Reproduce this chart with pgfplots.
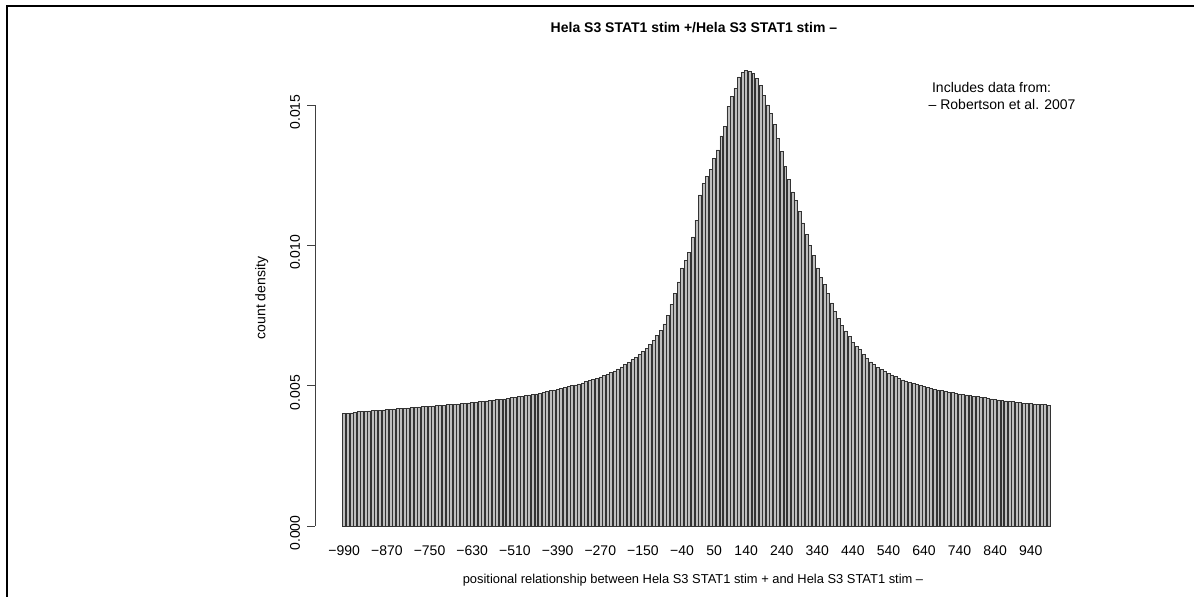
\documentclass[border=0pt]{standalone}
\usepackage{pgfplots}
\pgfplotsset{compat=1.18}
\usepackage{pgfplotstable}
\usepackage{fontspec}
\setmainfont{Liberation Sans}
\definecolor{bargrey}{RGB}{190,190,190}
\pgfplotstableread{
x y
-990 0.00401
-980 0.00402
-970 0.00403
-960 0.00405
-950 0.00407
-940 0.00408
-930 0.00409
-920 0.00410
-910 0.00411
-900 0.00412
-890 0.00413
-880 0.00414
-870 0.00415
-860 0.00416
-850 0.00417
-840 0.00418
-830 0.00419
-820 0.00420
-810 0.00421
-800 0.00422
-790 0.00423
-780 0.00424
-770 0.00425
-760 0.00426
-750 0.00427
-740 0.00428
-730 0.00429
-720 0.00430
-710 0.00431
-700 0.00432
-690 0.00433
-680 0.00434
-670 0.00435
-660 0.00436
-650 0.00437
-640 0.00439
-630 0.00440
-620 0.00441
-610 0.00443
-600 0.00444
-590 0.00446
-580 0.00447
-570 0.00449
-560 0.00450
-550 0.00452
-540 0.00453
-530 0.00455
-520 0.00457
-510 0.00459
-500 0.00461
-490 0.00463
-480 0.00465
-470 0.00467
-460 0.00469
-450 0.00471
-440 0.00473
-430 0.00476
-420 0.00479
-410 0.00482
-400 0.00485
-390 0.00488
-380 0.00491
-370 0.00494
-360 0.00497
-350 0.00500
-340 0.00503
-330 0.00506
-320 0.00510
-310 0.00514
-300 0.00518
-290 0.00522
-280 0.00526
-270 0.00531
-260 0.00536
-250 0.00541
-240 0.00547
-230 0.00553
-220 0.00560
-210 0.00567
-200 0.00576
-190 0.00584
-180 0.00593
-170 0.00602
-160 0.00611
-150 0.00622
-140 0.00634
-130 0.00648
-120 0.00662
-110 0.00678
-100 0.00698
-90 0.00720
-80 0.00750
-70 0.00790
-60 0.00830
-50 0.00870
-40 0.00920
-30 0.00945
-20 0.00975
-10 0.01030
0 0.01090
10 0.01180
20 0.01220
30 0.01245
40 0.01270
50 0.01310
60 0.01340
70 0.01390
80 0.01425
90 0.01495
100 0.01530
110 0.01560
120 0.01600
130 0.01615
140 0.01622
150 0.01620
160 0.01613
170 0.01595
180 0.01570
190 0.01535
200 0.01500
210 0.01470
220 0.01430
230 0.01380
240 0.01335
250 0.01280
260 0.01235
270 0.01190
280 0.01160
290 0.01120
300 0.01080
310 0.01040
320 0.01000
330 0.00965
340 0.00920
350 0.00885
360 0.00860
370 0.00830
380 0.00795
390 0.00765
400 0.00740
410 0.00715
420 0.00695
430 0.00675
440 0.00655
450 0.00640
460 0.00628
470 0.00612
480 0.00598
490 0.00585
500 0.00575
510 0.00565
520 0.00557
530 0.00550
540 0.00544
550 0.00538
560 0.00532
570 0.00526
580 0.00521
590 0.00517
600 0.00513
610 0.00509
620 0.00505
630 0.00501
640 0.00497
650 0.00494
660 0.00491
670 0.00488
680 0.00485
690 0.00482
700 0.00479
710 0.00477
720 0.00475
730 0.00473
740 0.00471
750 0.00469
760 0.00467
770 0.00465
780 0.00463
790 0.00461
800 0.00459
810 0.00457
820 0.00455
830 0.00453
840 0.00451
850 0.00449
860 0.00447
870 0.00446
880 0.00444
890 0.00443
900 0.00441
910 0.00440
920 0.00438
930 0.00437
940 0.00436
950 0.00435
960 0.00434
970 0.00433
980 0.00432
990 0.00431
}\hist
\begin{document}
\begin{tikzpicture}
\useasboundingbox (0,0) rectangle (597pt,298.5pt);
\draw[line width=1pt] (3.5pt,0) -- (3.5pt,295.5pt) -- (597pt,295.5pt);
\begin{axis}[
  at={(157.5pt,35.5pt)}, anchor=south west,
  scale only axis, width=367.5pt, height=210.5pt,
  xmin=-1072, xmax=994.2, ymin=0, ymax=0.015,
  clip=false,
  scaled y ticks=false,
  axis y line*=left, axis x line*=bottom,
  x axis line style={draw=none},
  y axis line style={line width=0.4pt, color=black!75, -},
  font=\fontsize{7}{8.4}\selectfont,
  xtick={-990,-870,-750,-630,-510,-390,-270,-150,-40,50,140,240,340,440,540,640,740,840,940},
  xticklabels={−990,−870,−750,−630,−510,−390,−270,−150,−40,50,140,240,340,440,540,640,740,840,940},
  x tick style={draw=none},
  xticklabel style={anchor=north, yshift=-2.5pt},
  ytick={0,0.005,0.01,0.015},
  yticklabels={0.000,0.005,0.010,0.015},
  y tick style={line width=0.4pt, color=black!75},
  tick align=outside, major tick length=4pt,
  yticklabel style={rotate=90, anchor=south, xshift=-3.5pt},
  title={\textbf{Hela S3 STAT1 stim +/Hela S3 STAT1 stim –}},
  title style={at={(axis description cs:0.5156,1.1544)}, anchor=center},
  xlabel={positional relationship between Hela S3 STAT1 stim + and Hela S3 STAT1 stim –},
  xlabel style={at={(axis description cs:0.5143,-0.1283)}, anchor=center, font=\fontsize{6.45}{7.8}\selectfont},
  ylabel={count density},
  ylabel style={at={(axis description cs:-0.0726,0.5416)}, anchor=center},
]
\addplot[ybar, bar width=1.48pt, bar shift=0pt, fill=bargrey, draw=black!80, line width=0.26pt] table[x=x,y=y] {\hist};
\node[anchor=west, inner sep=0pt] at (axis description cs:0.839,1.0404) {Includes data from:};
\node[anchor=west, inner sep=0pt] at (axis description cs:0.8344,1.0) {– Robertson et al. 2007};
\end{axis}
\end{tikzpicture}
\end{document}
